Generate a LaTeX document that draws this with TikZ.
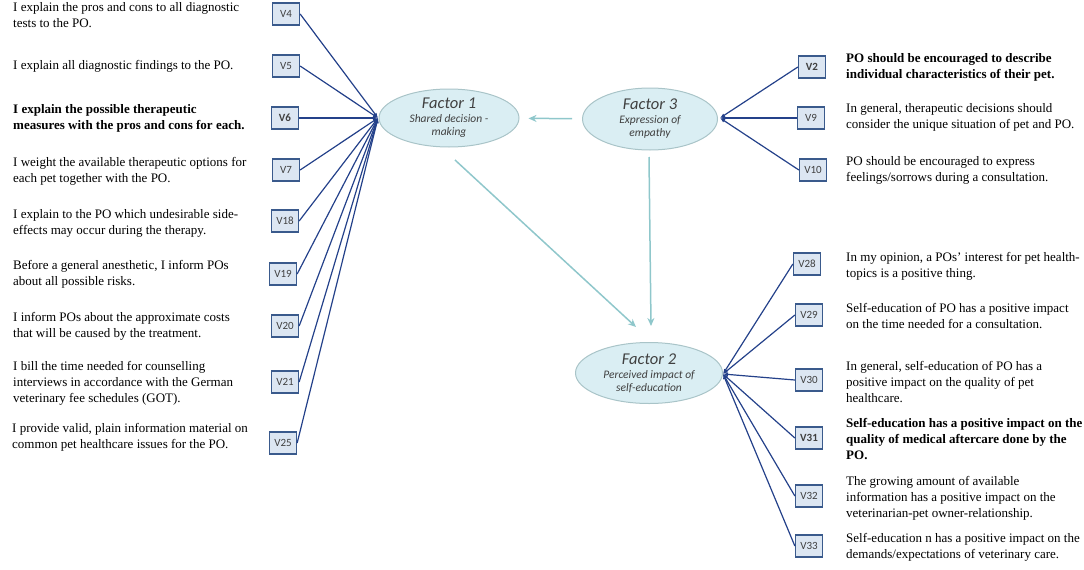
\documentclass[tikz,border=0pt]{standalone}
\usepackage{fontspec}
\setmainfont{Liberation Serif}
\newfontfamily\calib{Carlito}
\usetikzlibrary{arrows.meta,shapes.geometric}
\definecolor{boxfill}{HTML}{DCE6F2}
\definecolor{boxdraw}{HTML}{3A5A8C}
\definecolor{linkc}{HTML}{24418A}
\definecolor{ellfill}{HTML}{DAEEF3}
\definecolor{elldraw}{HTML}{A9C4C8}
\definecolor{arrc}{HTML}{8FC7CB}
\definecolor{lab}{HTML}{404040}
\tikzset{
 vbox/.style={draw=boxdraw, fill=boxfill, line width=1.3pt, minimum width=27pt, minimum height=22pt, inner sep=1pt, font=\calib\fontsize{11}{12}\selectfont, text=lab},
 vboxb/.style={vbox, font=\calib\bfseries\fontsize{11}{12}\selectfont},
 stmt/.style={anchor=west, align=left, inner sep=0pt, font=\fontsize{13}{16}\selectfont},
 stmtb/.style={stmt, font=\bfseries\fontsize{13}{16}\selectfont},
 factor/.style={ellipse, draw=elldraw, fill=ellfill, line width=1pt, inner sep=0pt, align=center, text=lab, font=\calib\itshape\fontsize{11.5}{13}\selectfont},
 link/.style={draw=linkc, line width=1.2pt, -{Latex[length=5pt,width=4pt]}},
 infl/.style={draw=arrc, line width=1.5pt, -{Stealth[length=8pt,width=7pt]}},
}
\begin{document}
\begin{tikzpicture}[x=1pt,y=-1pt]
\useasboundingbox (0,0) rectangle (1084,570);
% factors
\node[factor, minimum width=140pt, minimum height=58pt] (f1) at (449,118) {{\fontsize{16.5}{16}\selectfont Factor 1}\\[1pt]Shared decision -\\making};
\node[factor, minimum width=135pt, minimum height=62pt] (f3) at (650,119) {{\fontsize{16.5}{16}\selectfont Factor 3}\\[1pt]Expression of\\empathy};
\node[factor, minimum width=147pt, minimum height=61pt] (f2) at (649,373) {{\fontsize{16.5}{16}\selectfont Factor 2}\\[1pt]Perceived impact of\\self-education};
% hubs
\coordinate (h1) at (378,118);
\coordinate (h3) at (720,118);
\coordinate (h2) at (723,374);
% left boxes
\node[vbox] (v4) at (286,14) {V4};
\node[vbox] (v5) at (286,66) {V5};
\node[vboxb] (v6) at (285,118) {V6};
\node[vbox] (v7) at (286,170) {V7};
\node[vbox] (v18) at (285,221) {V18};
\node[vbox] (v19) at (283,274) {V19};
\node[vbox] (v20) at (285,326) {V20};
\node[vbox] (v21) at (285,382) {V21};
\node[vbox] (v25) at (283,443) {V25};
% right boxes
\node[vboxb] (v2) at (812,67) {V2};
\node[vbox] (v9) at (811,118) {V9};
\node[vbox] (v10) at (813,170) {V10};
\node[vbox] (v28) at (807,264) {V28};
\node[vbox] (v29) at (809,315) {V29};
\node[vbox] (v30) at (809,380) {V30};
\node[vboxb] (v31) at (809,438) {V31};
\node[vbox] (v32) at (809,496) {V32};
\node[vbox] (v33) at (809,546) {V33};
% left statements
\node[stmt] (t4) at (13,15) {I explain the pros and cons to all diagnostic\\tests to the PO.};
\node[stmt] (t5) at (13,66) {I explain all diagnostic findings to the PO.};
\node[stmtb] (t6) at (13,118) {I explain the possible therapeutic\\measures with the pros and cons for each.};
\node[stmt] (t7) at (13,171) {I weight the available therapeutic options for\\each pet together with the PO.};
\node[stmt] (t18) at (13,223) {I explain to the PO which undesirable side-\\effects may occur during the therapy.};
\node[stmt] (t19) at (13,274) {Before a general anesthetic, I inform POs\\about all possible risks.};
\node[stmt] (t20) at (13,326) {I inform POs about the approximate costs\\that will be caused by the treatment.};
\node[stmt] (t21) at (13,383) {I bill the time needed for counselling\\interviews in accordance with the German\\veterinary fee schedules (GOT).};
\node[stmt] (t25) at (12,437) {I provide valid, plain information material on\\common pet healthcare issues for the PO.};
% right statements
\node[stmtb] (t2) at (846,67) {PO should be encouraged to describe\\individual characteristics of their pet.};
\node[stmt] (t9) at (846,117) {In general, therapeutic decisions should\\consider the unique situation of pet and PO.};
\node[stmt] (t10) at (846,170) {PO should be encouraged to express\\feelings/sorrows during a consultation.};
\node[stmt] (t28) at (846,266) {In my opinion, a POs' interest for pet health-\\topics is a positive thing.};
\node[stmt] (t29) at (846,316) {Self-education of PO has a positive impact\\on the time needed for a consultation.};
\node[stmt] (t30) at (846,382) {In general, self-education of PO has a\\positive impact on the quality of pet\\healthcare.};
\node[stmtb] (t31) at (846,439) {Self-education has a positive impact on the\\quality of medical aftercare done by the\\PO.};
\node[stmt] (t32) at (846,498) {The growing amount of available\\information has a positive impact on the\\veterinarian-pet owner-relationship.};
\node[stmt] (t33) at (846,547) {Self-education n has a positive impact on the\\demands/expectations of veterinary care.};
% links
\foreach \v in {v4,v5,v6,v7,v18,v19,v20,v21,v25} \draw[link] (\v.east) -- (h1);
\foreach \v in {v2,v9,v10} \draw[link] (\v.west) -- (h3);
\foreach \v in {v28,v29,v30,v31,v32,v33} \draw[link] (\v.west) -- (h2);
% influence arrows
\draw[infl, shorten <=10pt, shorten >=9pt] (f3) -- (f1);
\coordinate (a1) at (455,160);
\coordinate (a2) at (636,327);
\coordinate (b1) at (649,157);
\coordinate (b2) at (651,326);
\draw[infl] (a1) -- (a2);
\draw[infl] (b1) -- (b2);
\end{tikzpicture}
\end{document}
